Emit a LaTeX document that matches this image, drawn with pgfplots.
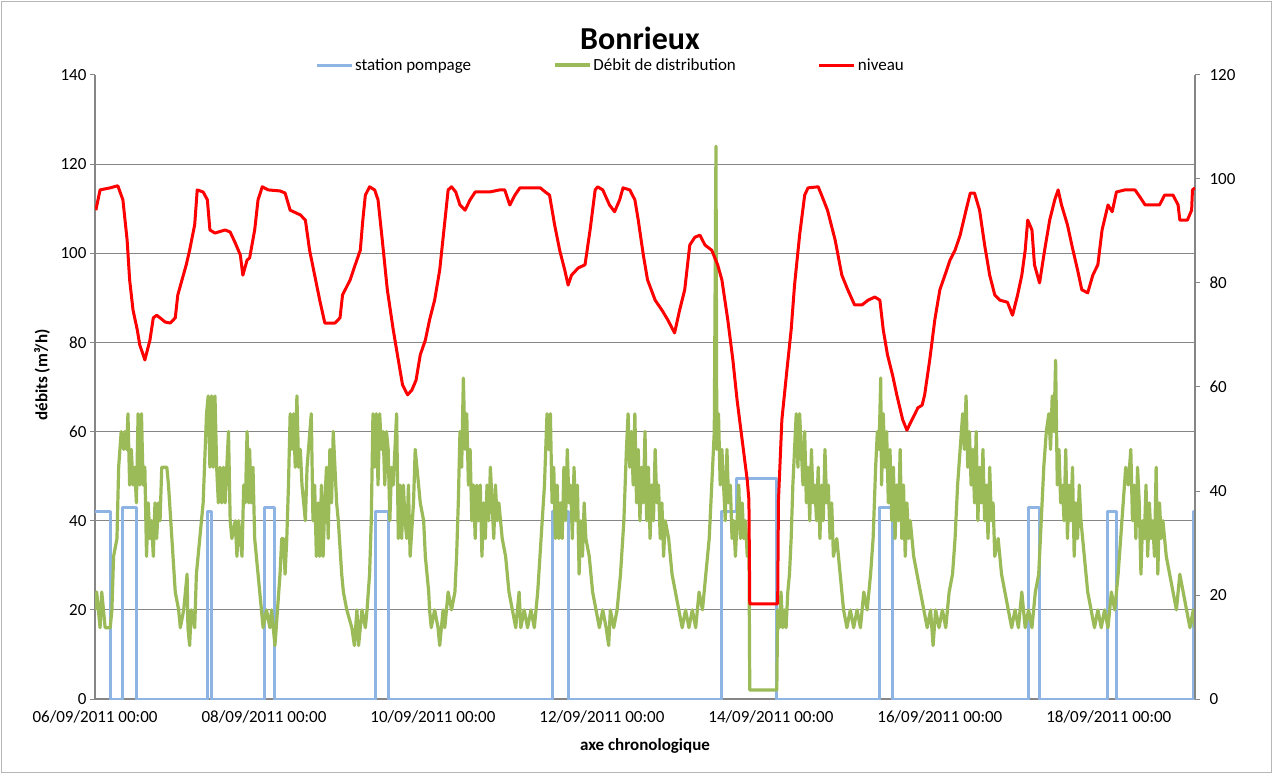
\documentclass[border=0pt]{standalone}
\usepackage{fontspec}
\setmainfont{Carlito}
\usepackage{pgfplots}
\pgfplotsset{compat=1.18}
\definecolor{cBlue}{HTML}{8EB4E3}
\definecolor{cGreen}{HTML}{9BBB59}
\definecolor{cRed}{HTML}{FF0000}
\definecolor{cAxis}{HTML}{868686}
\begin{document}
\begin{tikzpicture}[x=1pt,y=1pt]
\begin{axis}[
  at={(95pt,75pt)}, anchor=south west, scale only axis, width=1100pt, height=624pt,
  xmin=0, xmax=13.02, ymin=0, ymax=140,
  axis x line*=bottom, axis y line*=left,
  axis line style={-, draw=cAxis, line width=1.3pt},
  xtick={0,2,...,12},
  xticklabels={06/09/2011 00:00,08/09/2011 00:00,10/09/2011 00:00,12/09/2011 00:00,14/09/2011 00:00,16/09/2011 00:00,18/09/2011 00:00},
  xtick style={draw=none},
  ytick={0,20,...,120}, extra y ticks={140}, extra y tick style={grid=none},
  ymajorgrids, grid style={draw=cAxis, line width=0.9pt},
  tick align=outside, major tick length=5pt, ytick style={draw=cAxis, line width=1pt},
  tick label style={font=\fontsize{17}{20}\selectfont},
  /pgf/number format/assume math mode=true,
  xticklabel style={yshift=-3pt},
  legend columns=3,
  legend style={draw=none, fill=none, at={(0.2,1.016)}, anchor=west, inner sep=0pt,
    font=\fontsize{17}{20}\selectfont, /tikz/every even column/.append style={column sep=80pt}},
  legend image code/.code={\draw[#1] (0pt,0pt) -- (35pt,0pt);},
  line join=round,
]
\addplot[cBlue, line width=3pt] table {
0 42
0.178 42
0.178 0
0.323 0
0.323 43
0.493 43
0.493 0
1.33 0
1.33 42
1.38 42
1.38 0
2.004 0
2.004 43
2.13 43
2.13 0
3.325 0
3.325 42
3.471 42
3.471 0
5.42 0
5.42 42
5.60 42
5.60 0
7.41 0
7.41 42
7.59 42
7.59 49.5
8.07 49.5
8.07 0
9.29 0
9.29 43
9.44 43
9.44 0
11.05 0
11.05 43
11.18 43
11.18 0
11.99 0
11.99 42
12.09 42
12.09 0
13.0 0
13.0 42
13.02 42
};
\addlegendentry{station pompage}
\addplot[cGreen, line width=3.2pt] table {
0.00 20
0.02 24
0.06 16
0.08 24
0.12 16
0.18 16
0.20 20
0.22 32
0.26 36
0.28 52
0.31 60
0.34 56
0.355 60
0.375 56
0.39 64
0.41 48
0.43 56
0.45 48
0.47 52
0.49 44
0.51 64
0.53 48
0.55 64
0.57 48
0.59 52
0.61 32
0.63 44
0.65 36
0.67 40
0.69 32
0.71 44
0.73 36
0.75 44
0.77 40
0.79 52
0.85 52
0.87 48
0.91 36
0.95 24
0.99 20
1.01 16
1.05 20
1.09 28
1.10 16
1.12 12
1.14 20
1.18 16
1.20 28
1.24 36
1.28 44
1.32 64
1.34 68
1.36 52
1.38 68
1.40 52
1.42 68
1.44 52
1.46 44
1.48 52
1.50 44
1.52 52
1.54 44
1.58 60
1.60 40
1.62 36
1.66 40
1.68 32
1.70 40
1.74 32
1.76 48
1.78 44
1.80 60
1.82 44
1.83 56
1.85 44
1.87 52
1.89 36
1.91 32
1.93 28
1.97 20
1.99 16
2.03 20
2.07 16
2.09 20
2.11 16
2.13 12
2.16 20
2.19 28
2.21 36
2.23 36
2.25 28
2.27 36
2.29 48
2.31 64
2.33 56
2.35 64
2.37 52
2.39 68
2.41 52
2.43 56
2.45 48
2.47 44
2.49 40
2.51 52
2.56 64
2.58 40
2.60 48
2.62 32
2.64 44
2.66 32
2.68 48
2.70 32
2.72 44
2.74 52
2.76 36
2.78 56
2.80 44
2.82 60
2.84 52
2.86 44
2.88 40
2.92 28
2.94 24
2.98 20
3.04 16
3.07 12
3.10 20
3.12 12
3.16 20
3.20 16
3.22 20
3.25 28
3.27 40
3.29 64
3.31 52
3.33 64
3.35 48
3.37 64
3.39 56
3.41 60
3.43 48
3.45 60
3.47 56
3.49 40
3.51 52
3.53 48
3.55 56
3.57 64
3.59 36
3.61 48
3.63 36
3.65 48
3.67 40
3.69 36
3.71 48
3.73 32
3.77 44
3.79 56
3.83 48
3.85 44
3.89 40
3.91 32
3.93 28
3.95 24
3.96 20
3.98 16
4.02 20
4.06 16
4.08 12
4.12 20
4.14 16
4.18 24
4.22 20
4.26 24
4.28 32
4.30 44
4.32 60
4.34 52
4.36 72
4.38 56
4.40 64
4.42 48
4.44 56
4.46 40
4.48 48
4.50 36
4.52 48
4.54 40
4.56 48
4.58 32
4.60 44
4.62 36
4.64 48
4.66 40
4.68 52
4.70 44
4.72 36
4.74 48
4.76 40
4.78 44
4.82 36
4.86 32
4.90 24
4.94 20
4.98 16
5.02 24
5.04 16
5.08 20
5.12 16
5.16 20
5.20 16
5.24 24
5.28 36
5.32 48
5.35 64
5.37 56
5.39 64
5.41 44
5.43 52
5.45 36
5.47 48
5.49 36
5.51 44
5.53 36
5.55 52
5.57 40
5.59 56
5.61 44
5.63 48
5.65 36
5.67 52
5.69 40
5.71 48
5.73 28
5.75 40
5.77 32
5.79 44
5.81 36
5.85 32
5.89 24
5.93 20
5.97 16
6.01 20
6.05 16
6.08 12
6.10 20
6.14 16
6.18 20
6.22 28
6.26 40
6.29 56
6.31 64
6.33 52
6.35 60
6.37 48
6.39 64
6.41 44
6.43 56
6.45 40
6.47 52
6.49 44
6.51 60
6.53 40
6.55 52
6.57 36
6.59 48
6.61 40
6.63 56
6.65 44
6.67 48
6.69 36
6.71 44
6.73 32
6.75 40
6.79 36
6.83 28
6.87 24
6.91 20
6.95 16
6.99 20
7.03 16
7.07 20
7.11 16
7.15 24
7.19 20
7.23 28
7.27 36
7.30 48
7.33 60
7.35 124
7.36 56
7.38 64
7.40 48
7.42 56
7.44 48
7.46 40
7.48 56
7.50 44
7.52 48
7.54 36
7.56 40
7.58 32
7.60 40
7.62 48
7.64 36
7.66 44
7.68 36
7.70 40
7.72 32
7.74 36
7.75 2
8.07 2
8.08 20
8.10 16
8.12 24
8.14 16
8.16 20
8.18 16
8.20 24
8.22 28
8.24 36
8.26 48
8.28 56
8.30 64
8.32 52
8.34 64
8.36 56
8.38 48
8.40 60
8.42 44
8.44 52
8.46 40
8.48 56
8.50 44
8.52 48
8.54 40
8.56 52
8.58 36
8.60 48
8.62 40
8.64 56
8.66 44
8.68 48
8.70 36
8.72 44
8.74 32
8.78 36
8.82 28
8.86 20
8.90 16
8.94 20
8.98 16
9.02 20
9.06 16
9.10 24
9.14 20
9.18 28
9.21 36
9.24 52
9.26 60
9.28 56
9.30 72
9.31 48
9.33 64
9.35 52
9.37 60
9.39 44
9.41 56
9.43 40
9.45 52
9.47 36
9.49 48
9.51 40
9.53 56
9.55 36
9.57 48
9.59 32
9.61 44
9.63 36
9.65 40
9.69 32
9.73 28
9.77 24
9.81 20
9.85 16
9.89 20
9.92 12
9.95 20
9.99 16
10.03 20
10.07 16
10.11 24
10.15 28
10.18 36
10.21 48
10.24 56
10.27 64
10.29 56
10.31 68
10.33 52
10.35 60
10.37 48
10.39 56
10.41 44
10.43 60
10.45 40
10.47 52
10.49 44
10.51 56
10.53 40
10.55 48
10.57 36
10.59 52
10.61 40
10.63 44
10.65 32
10.69 36
10.73 28
10.77 24
10.81 20
10.85 16
10.89 20
10.93 16
10.97 24
11.01 16
11.05 20
11.09 16
11.13 24
11.17 28
11.20 40
11.23 52
11.26 60
11.29 64
11.31 56
11.33 68
11.35 60
11.37 76
11.39 48
11.41 56
11.43 44
11.45 48
11.47 40
11.49 56
11.51 36
11.53 48
11.55 40
11.57 52
11.59 32
11.61 44
11.63 36
11.65 48
11.67 40
11.71 32
11.75 24
11.79 20
11.83 16
11.87 20
11.91 16
11.95 20
11.99 16
12.03 24
12.07 20
12.11 28
12.14 36
12.17 44
12.20 52
12.23 48
12.26 56
12.28 40
12.30 48
12.32 36
12.34 52
12.36 44
12.38 28
12.40 40
12.42 36
12.44 48
12.46 32
12.48 44
12.50 36
12.52 40
12.54 32
12.56 52
12.58 28
12.60 44
12.62 36
12.64 40
12.68 32
12.72 28
12.76 24
12.80 20
12.84 28
12.88 24
12.92 20
12.96 16
13.00 20
13.02 16
};
\addlegendentry{Débit de distribution}
\addlegendimage{cRed, line width=3pt}
\addlegendentry{niveau}
\end{axis}
\begin{axis}[
  at={(95pt,75pt)}, anchor=south west, scale only axis, width=1100pt, height=624pt,
  xmin=0, xmax=13.02, ymin=0, ymax=120,
  axis x line=none, axis y line*=right,
  axis line style={-, draw=cAxis, line width=1.3pt},
  ytick={0,20,...,120},
  tick align=outside, major tick length=5pt, ytick style={draw=cAxis, line width=1pt},
  tick label style={font=\fontsize{17}{20}\selectfont},
  /pgf/number format/assume math mode=true,
  yticklabel style={xshift=6pt},
  line join=round,
]
\addplot[cRed, line width=3pt] table {
0.01 94.0
0.06 97.9
0.18 98.3
0.27 98.7
0.33 96.0
0.38 88.3
0.41 80.6
0.45 74.8
0.50 71.0
0.53 68.1
0.59 65.2
0.65 69.0
0.69 73.3
0.73 73.8
0.77 73.3
0.83 72.5
0.89 72.3
0.95 73.3
0.98 77.7
1.03 80.6
1.08 83.5
1.12 86.3
1.18 91.2
1.21 97.9
1.28 97.5
1.33 96.0
1.36 90.2
1.42 89.6
1.54 90.2
1.60 89.8
1.66 87.7
1.72 85.4
1.75 81.5
1.80 84.4
1.83 84.8
1.89 90.2
1.93 96.0
1.98 98.5
2.05 97.9
2.19 97.7
2.25 97.3
2.31 94.0
2.43 93.1
2.49 92.1
2.54 86.3
2.60 81.5
2.66 76.7
2.72 72.3
2.84 72.3
2.90 73.3
2.93 77.7
3.02 80.6
3.08 83.5
3.14 86.3
3.17 92.1
3.20 96.9
3.25 98.5
3.31 97.9
3.35 96.0
3.40 88.3
3.46 78.7
3.53 71.0
3.59 65.2
3.64 60.4
3.70 58.5
3.75 59.4
3.80 61.3
3.85 66.2
3.91 69.0
3.96 72.9
4.02 76.7
4.08 82.5
4.13 90.2
4.18 97.9
4.22 98.5
4.27 97.5
4.32 95.0
4.38 94.0
4.44 96.0
4.50 97.5
4.67 97.5
4.79 97.9
4.85 97.9
4.91 95.0
4.97 96.9
5.03 98.3
5.27 98.3
5.33 97.5
5.38 96.9
5.44 91.2
5.50 86.3
5.56 82.5
5.60 79.6
5.64 81.5
5.72 82.9
5.80 83.5
5.86 90.2
5.92 97.9
5.95 98.5
6.01 97.9
6.09 95.0
6.15 93.7
6.21 96.0
6.25 98.3
6.33 97.9
6.39 96.0
6.43 92.1
6.49 85.4
6.54 80.6
6.63 76.7
6.71 74.8
6.78 72.9
6.86 70.4
6.92 74.8
6.98 78.7
7.04 87.3
7.10 88.8
7.16 89.2
7.22 87.3
7.30 86.3
7.37 83.5
7.42 80.6
7.49 72.9
7.55 65.2
7.60 57.5
7.66 49.8
7.72 42.1
7.74 38.3
7.75 18.3
8.08 18.3
8.09 38.3
8.13 53.7
8.19 63.3
8.24 71.0
8.28 79.6
8.34 89.2
8.40 96.9
8.44 98.3
8.56 98.5
8.60 96.9
8.67 94.0
8.76 88.3
8.84 81.5
8.91 78.7
8.99 75.8
9.08 75.8
9.15 76.7
9.23 77.3
9.29 76.7
9.33 71.0
9.38 66.2
9.44 62.3
9.49 58.5
9.56 53.7
9.61 51.7
9.67 53.7
9.74 56.0
9.79 56.5
9.82 58.5
9.88 65.2
9.94 72.9
10.00 78.7
10.06 81.5
10.12 84.4
10.18 86.3
10.24 89.2
10.31 94.0
10.36 97.3
10.41 97.3
10.47 94.0
10.53 87.3
10.59 81.5
10.65 77.7
10.71 76.7
10.80 76.3
10.86 73.8
10.92 77.7
10.97 81.5
11.01 86.3
11.04 92.1
11.09 90.2
11.12 83.5
11.18 80.0
11.24 86.3
11.30 92.1
11.36 96.0
11.40 97.9
11.44 95.0
11.51 91.2
11.57 86.7
11.63 82.5
11.68 78.7
11.75 78.1
11.81 81.5
11.87 83.5
11.92 90.2
11.99 95.0
12.04 93.7
12.09 97.5
12.19 97.9
12.31 97.9
12.37 96.5
12.43 95.0
12.60 95.0
12.66 96.9
12.76 96.9
12.82 95.0
12.84 92.1
12.93 92.1
12.98 94.0
12.99 97.9
13.02 98.3
};
\end{axis}
\node[font=\fontsize{32}{38}\selectfont\bfseries] at (640,736) {Bonrieux};
\node[rotate=90, font=\fontsize{17}{20}\selectfont\bfseries] at (42,399) {débits (m³/h)};
\node[font=\fontsize{17}{20}\selectfont\bfseries] at (645,28) {axe chronologique};
\draw[cAxis!60, line width=1pt] (1.5,1.5) rectangle (1271.5,772.5);
\pgfresetboundingbox
\path[use as bounding box] (0,0) rectangle (1273,774);
\end{tikzpicture}
\end{document}
